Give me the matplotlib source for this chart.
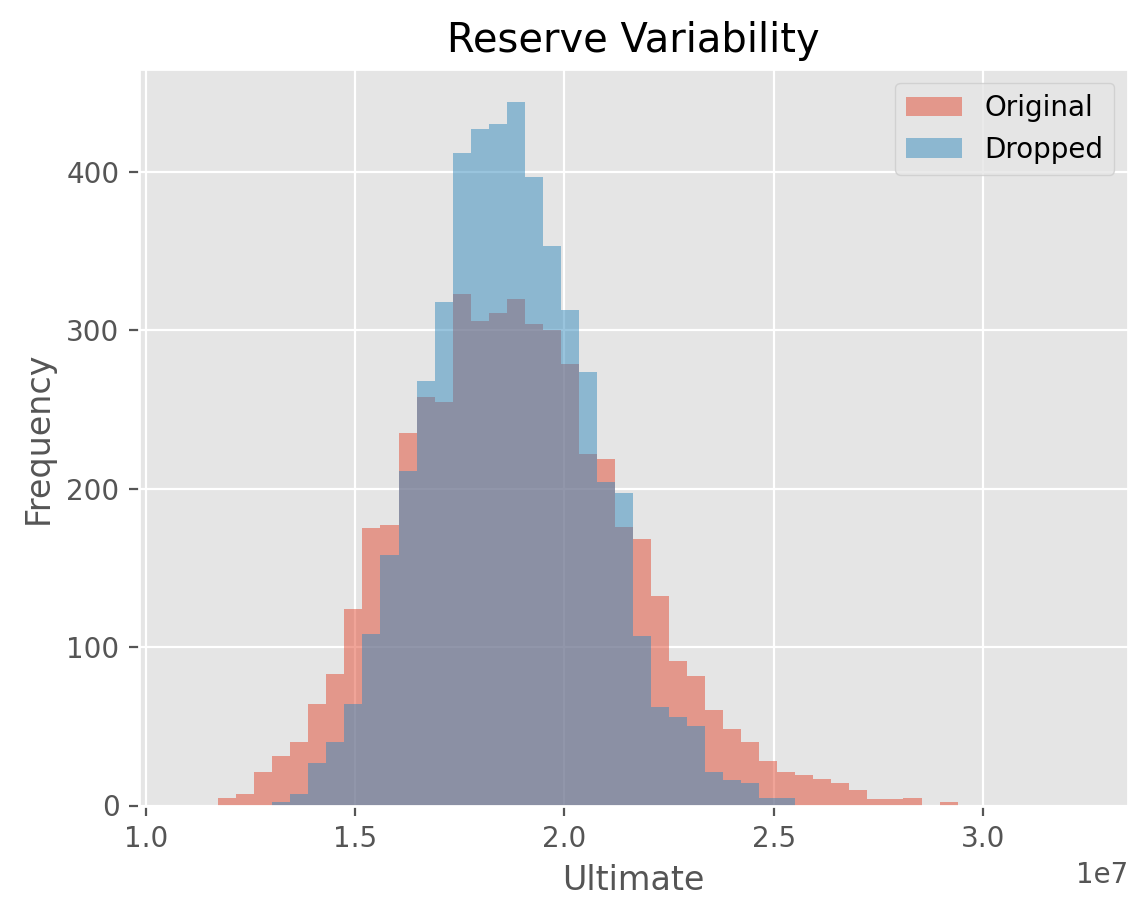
import numpy as np
import matplotlib
matplotlib.use('Agg')
import matplotlib.pyplot as plt

plt.style.use('ggplot')

# Histogram bin definition (50 equal bins)
bin_start = 1.0865e7
bin_width = 0.04309e7
n_bins = 50

series_names = ['Original', 'Dropped']

original_counts = [0, 0, 5, 7, 21, 31, 40, 64, 83, 124,
                   175, 177, 235, 258, 255, 323, 306, 311, 320, 304,
                   300, 279, 222, 219, 176, 168, 132, 91, 82, 60,
                   48, 40, 28, 21, 19, 17, 14, 10, 4, 4,
                   5, 0, 2, 0, 0, 0, 0, 0, 0, 0]

dropped_counts = [0, 0, 0, 0, 0, 2, 7, 27, 40, 64,
                  108, 158, 211, 268, 318, 412, 427, 430, 444, 397,
                  353, 313, 274, 204, 197, 107, 62, 56, 50, 21,
                  16, 14, 5, 5, 0, 0, 0, 0, 0, 0,
                  0, 0, 0, 0, 0, 0, 0, 0, 0, 0]

edges = bin_start + bin_width * np.arange(n_bins + 1)
centers = (edges[:-1] + edges[1:]) / 2

fig = plt.figure(figsize=(5.74, 4.59), dpi=200)
W, H = 1148, 918
ax = fig.add_axes([139 / W, 1 - 805.5 / H, (1128 - 139) / W, (805.5 - 69) / H])

ax.hist(centers, bins=edges, weights=original_counts, alpha=0.5,
        color='#E24A33', label=series_names[0])
ax.hist(centers, bins=edges, weights=dropped_counts, alpha=0.5,
        color='#348ABD', label=series_names[1])

ax.set_xlim(0.9835e7, 3.3465e7)
ax.set_ylim(0, 465)
ax.set_xticks([1.0e7, 1.5e7, 2.0e7, 2.5e7, 3.0e7])
ax.set_yticks([0, 100, 200, 300, 400])

ax.set_title('Reserve Variability')
ax.set_xlabel('Ultimate')
ax.set_ylabel('Frequency')
ax.legend(loc='upper right')

fig.savefig('out.png', dpi=200)
